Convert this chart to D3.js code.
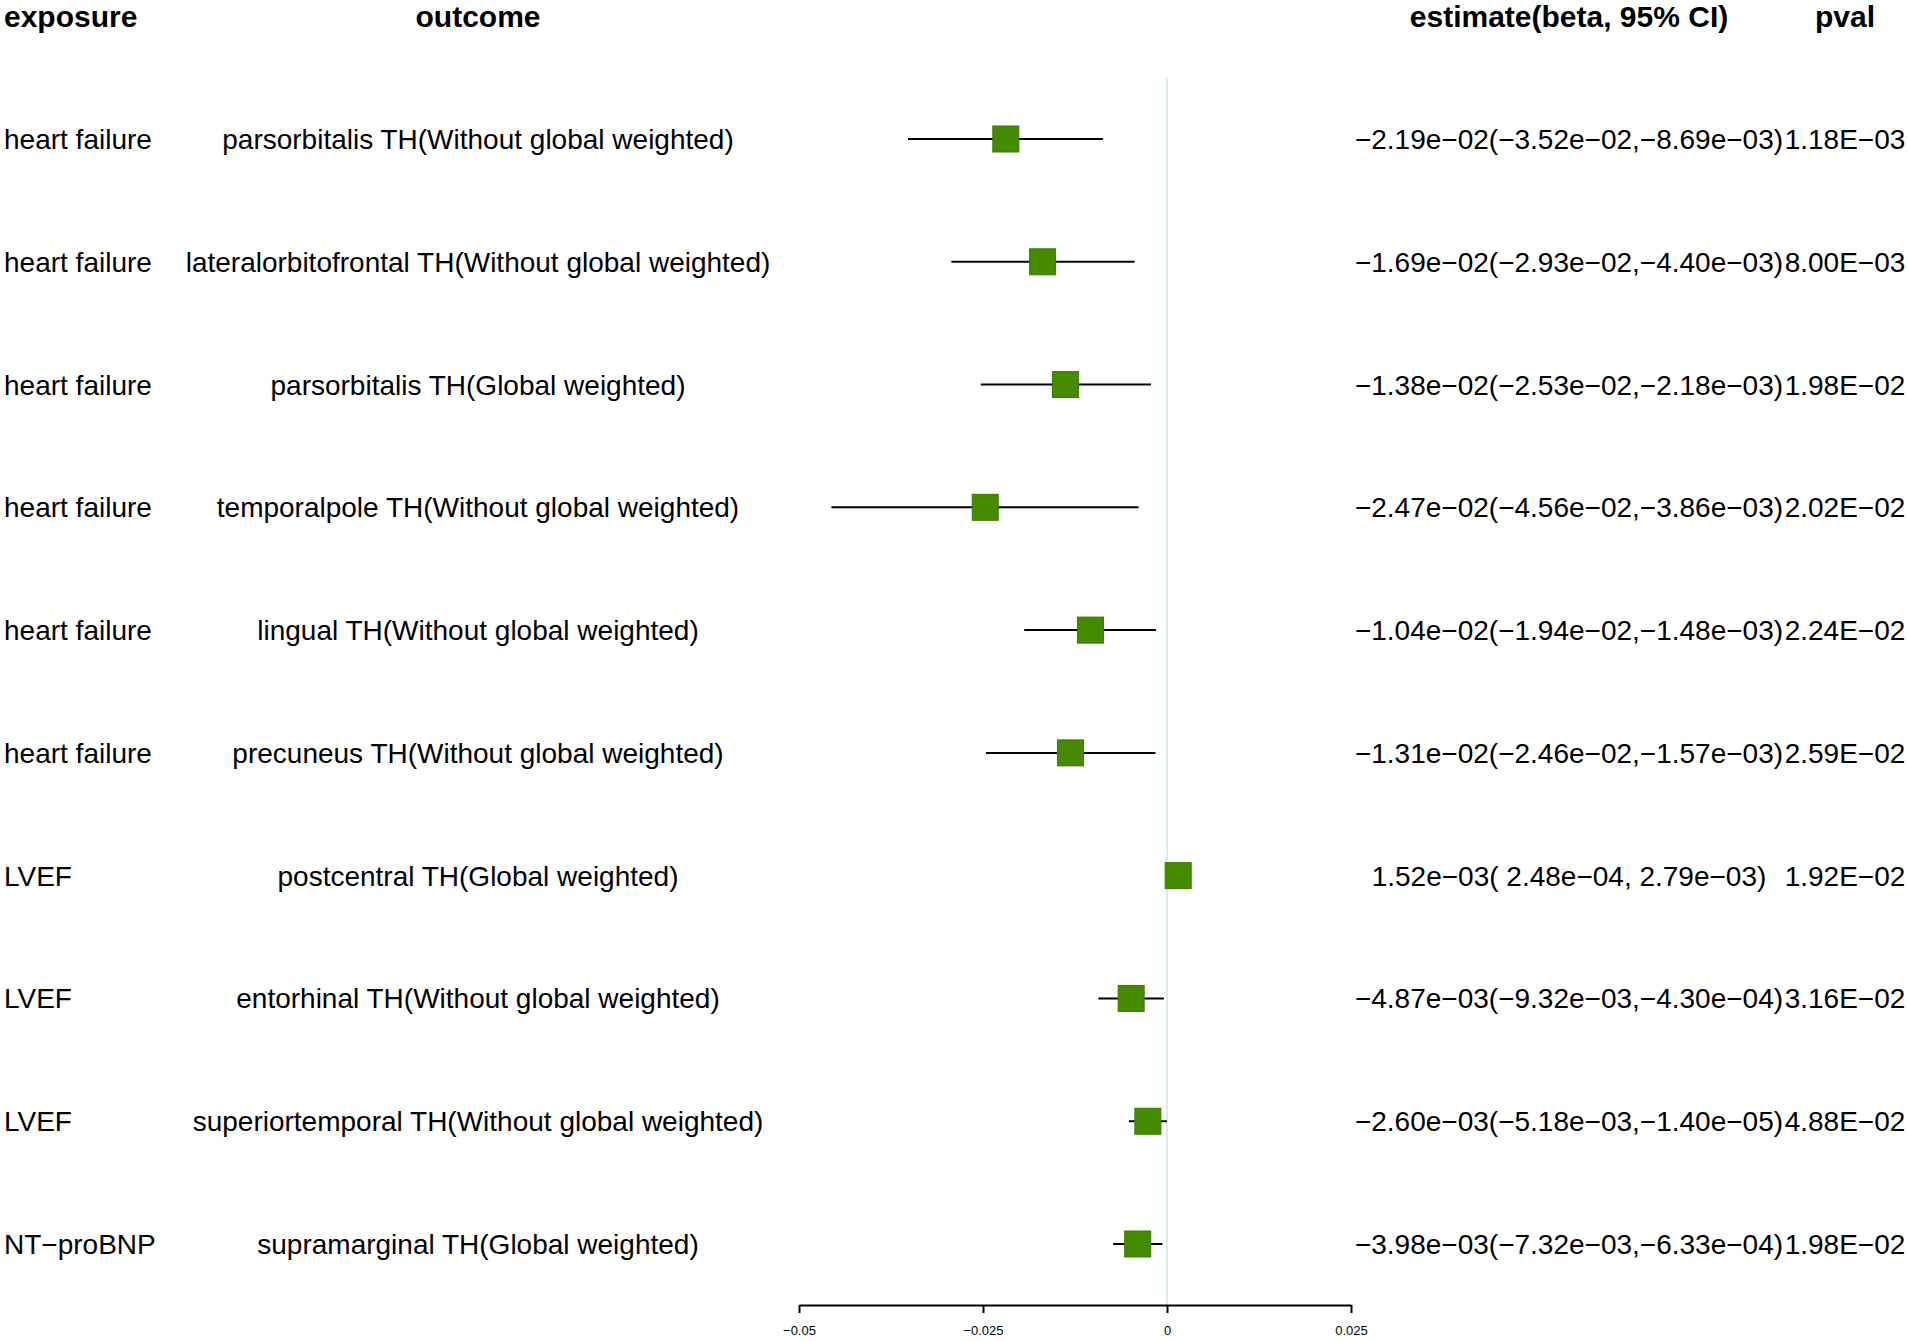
<!DOCTYPE html>
<html>
<head>
<meta charset="utf-8">
<script src="https://cdn.jsdelivr.net/npm/d3@7"></script>
<style>
  html, body { margin: 0; padding: 0; background: #fff; }
  svg { display: block; }
  text { font-family: "Liberation Sans", Arial, Helvetica, sans-serif; fill: #000; }
</style>
</head>
<body>
<svg id="chart" width="1908" height="1341"></svg>
<script>
// ---- data ----
const exposures = ["heart failure","heart failure","heart failure","heart failure","heart failure","heart failure","LVEF","LVEF","LVEF","NT\u2212proBNP"];
const outcomes = [
  "parsorbitalis TH(Without global weighted)",
  "lateralorbitofrontal TH(Without global weighted)",
  "parsorbitalis TH(Global weighted)",
  "temporalpole TH(Without global weighted)",
  "lingual TH(Without global weighted)",
  "precuneus TH(Without global weighted)",
  "postcentral TH(Global weighted)",
  "entorhinal TH(Without global weighted)",
  "superiortemporal TH(Without global weighted)",
  "supramarginal TH(Global weighted)"
];
const estimates = [-2.19e-02, -1.69e-02, -1.38e-02, -2.47e-02, -1.04e-02, -1.31e-02, 1.52e-03, -4.87e-03, -2.60e-03, -3.98e-03];
const lowerCI   = [-3.52e-02, -2.93e-02, -2.53e-02, -4.56e-02, -1.94e-02, -2.46e-02, 2.48e-04, -9.32e-03, -5.18e-03, -7.32e-03];
const upperCI   = [-8.69e-03, -4.40e-03, -2.18e-03, -3.86e-03, -1.48e-03, -1.57e-03, 2.79e-03, -4.30e-04, -1.40e-05, -6.33e-04];
const pvals     = [1.18e-03, 8.00e-03, 1.98e-02, 2.02e-02, 2.24e-02, 2.59e-02, 1.92e-02, 3.16e-02, 4.88e-02, 1.98e-02];
const xTicks    = [-0.05, -0.025, 0, 0.025];
const headers   = ["exposure", "outcome", "estimate(beta, 95% CI)", "pval"];

// ---- helpers ----
function sci(v, pad) {
  let s = v.toExponential(2);               // e.g. -2.19e-2
  s = s.replace(/e([+-])(\d)$/, "e$10$2");  // two-digit exponent
  s = s.replace(/-/g, "\u2212");
  if (pad && v >= 0) s = " " + s;
  return s;
}
function pfmt(v) {
  return sci(v, false).replace("e", "E");
}

const rows = exposures.map((e, i) => ({
  exposure: e, outcome: outcomes[i], est: estimates[i], lo: lowerCI[i], hi: upperCI[i], p: pvals[i],
  label: sci(estimates[i], false) + "(" + sci(lowerCI[i], true) + "," + sci(upperCI[i], true) + ")"
}));

// ---- layout ----
const svg = d3.select("#chart");
const x = d3.scaleLinear().domain([-0.05, 0.025]).range([799, 1351]);
const y = d3.scalePoint().domain(d3.range(rows.length)).range([139, 1244]);
const axisY = 1305;
const colExposure = 4, colOutcome = 478, colEst = 1569, colP = 1845;
const fontSize = 28;

// zero reference line
svg.append("line")
  .attr("x1", x(0)).attr("x2", x(0))
  .attr("y1", 77).attr("y2", axisY)
  .attr("stroke", "#cbe5ea").attr("stroke-width", 1.5);

// headers
const hdr = svg.append("g").attr("font-weight", "bold").attr("font-size", 30);
hdr.append("text").attr("x", colExposure).attr("y", 27).attr("text-anchor", "start").text(headers[0]);
hdr.append("text").attr("x", colOutcome).attr("y", 27).attr("text-anchor", "middle").text(headers[1]);
hdr.append("text").attr("x", colEst).attr("y", 27).attr("text-anchor", "middle").text(headers[2]);
hdr.append("text").attr("x", colP).attr("y", 27).attr("text-anchor", "middle").text(headers[3]);

// row texts
const rowG = svg.append("g").selectAll("g").data(rows).join("g")
  .attr("transform", (d, i) => `translate(0,${y(i)})`);
rowG.append("text").attr("x", colExposure).attr("y", 10).attr("font-size", fontSize)
  .attr("text-anchor", "start").text(d => d.exposure);
rowG.append("text").attr("x", colOutcome).attr("y", 10).attr("font-size", fontSize)
  .attr("text-anchor", "middle").text(d => d.outcome);
rowG.append("text").attr("x", colEst).attr("y", 10).attr("font-size", fontSize)
  .attr("text-anchor", "middle").attr("xml:space", "preserve").style("white-space", "pre").text(d => d.label);
rowG.append("text").attr("x", colP).attr("y", 10).attr("font-size", fontSize)
  .attr("text-anchor", "middle").text(d => pfmt(d.p));

// CI lines
rowG.append("line")
  .attr("x1", d => x(d.lo)).attr("x2", d => x(d.hi))
  .attr("y1", 0).attr("y2", 0)
  .attr("stroke", "#000").attr("stroke-width", 2);

// boxes
const box = 26;
rowG.append("rect")
  .attr("x", d => x(d.est) - box / 2).attr("y", -box / 2)
  .attr("width", box).attr("height", box)
  .attr("fill", "#458B00").attr("stroke", "#3b7800").attr("stroke-width", 1);

// x axis
const axis = d3.axisBottom(x).tickValues(xTicks).tickFormat(d3.format("~g"))
  .tickSize(8).tickSizeOuter(0).tickPadding(13);
const ax = svg.append("g").attr("transform", `translate(0,${axisY})`).call(axis);
ax.select(".domain").attr("stroke", "#000").attr("stroke-width", 2);
ax.selectAll(".tick line").attr("stroke", "#000").attr("stroke-width", 2);
ax.selectAll(".tick text").attr("font-size", 13).attr("font-family", "'Liberation Sans', Arial, sans-serif").attr("fill", "#000");
</script>
</body>
</html>
